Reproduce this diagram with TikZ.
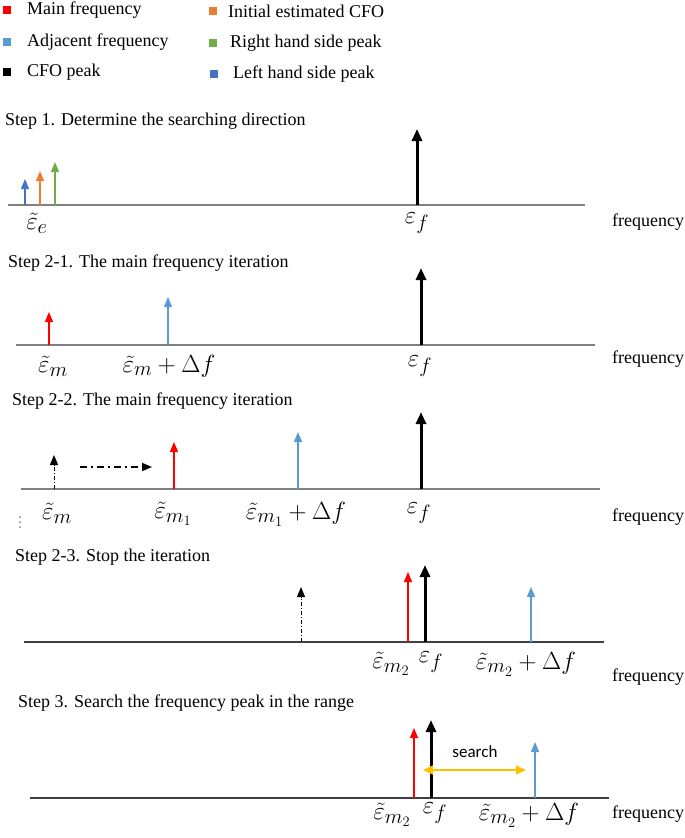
\documentclass[tikz,border=0pt]{standalone}
\usepackage{amsmath, amssymb}
\usepackage{tikz}
\usepackage{fontspec}
\setmainfont{Liberation Serif}
\newfontfamily\searchfont{Carlito}
\usetikzlibrary{arrows.meta}
\usepackage{xcolor}

\definecolor{mainred}{HTML}{FF0000}
\definecolor{adjblue}{HTML}{5B9BD5}
\definecolor{initorange}{HTML}{ED7D31}
\definecolor{rightgreen}{HTML}{70AD47}
\definecolor{leftblue}{HTML}{4472C4}
\definecolor{searchgold}{HTML}{FFC000}

\begin{document}
\begin{tikzpicture}[x=1pt,y=-1pt,
  spike/.style={-{Triangle[width=8pt,length=10pt]}, line width=1.2pt},
  peak/.style={-{Triangle[width=10pt,length=12pt]}, line width=3pt, black},
  dashdot/.style={dash pattern=on 4pt off 2pt on 1pt off 2pt},
  freqaxis/.style={line width=2pt, draw=gray},
  steptitle/.style={anchor=west, inner sep=0pt, font=\fontsize{18}{20}\selectfont},
  legtext/.style={anchor=west, inner sep=0pt, font=\fontsize{18}{20}\selectfont},
  lbl/.style={inner sep=0pt, font=\fontsize{28}{30}\selectfont}]

\useasboundingbox (0,0) rectangle (685,838);

% Legend squares and texts
\foreach \col/\sx/\sy/\tx/\txt [count=\i] in {
  mainred/7/10/27/Main frequency,
  adjblue/7/42/27/Adjacent frequency,
  black/7/72/27/CFO peak,
  initorange/213/11/228/Initial estimated CFO,
  rightgreen/213/43/230/Right hand side peak,
  leftblue/214/74/233/Left hand side peak}
{
  \fill[\col] (\sx-4,\sy-4) rectangle (\sx+4,\sy+4);
  \node[legtext] (leg\i) at (\tx,\sy) {\txt};
}

% Step titles
\node[steptitle] (s1) at (5,121) {Step 1. Determine the searching direction};
\node[steptitle] (s21) at (8,263) {Step 2-1. The main frequency iteration};
\node[steptitle] (s22) at (12,401) {Step 2-2. The main frequency iteration};
\node[steptitle] (s23) at (15,557) {Step 2-3. Stop the iteration};
\node[steptitle] (s3) at (18,703) {Step 3. Search the frequency peak in the range};

% Frequency axes
\foreach \xa/\xb/\y in {8/585/205, 16/595/345, 21/600/489}
  \draw[freqaxis] (\xa,\y) -- (\xb,\y);
\foreach \xa/\xb/\y in {24/604/642, 30/609/798}
  \draw[line width=1.5pt, draw=black!75] (\xa,\y) -- (\xb,\y);

% Axis names
\foreach \y [count=\i] in {222,359,517,677,814}
  \node[legtext] (freq\i) at (612,\y) {frequency};

% Step 1
\draw[spike, leftblue] (25,205) -- (25,179);
\draw[spike, initorange] (40,205) -- (40,171);
\draw[spike, rightgreen] (55,205) -- (55,162);
\draw[peak] (417,205) -- (417,129);
\node[lbl] (e1) at (37,223) {$\tilde{\varepsilon}_e$};
\node[lbl] (f1) at (417,223) {$\varepsilon_f$};

% Step 2-1
\draw[spike, mainred] (49,345) -- (49,312);
\draw[spike, adjblue] (168,345) -- (168,297);
\draw[peak] (421,345) -- (421,268);
\node[lbl] (m21) at (53,366) {$\tilde{\varepsilon}_m$};
\node[lbl] (d21) at (169,366) {$\tilde{\varepsilon}_m+\Delta f$};
\node[lbl] (f21) at (420,366) {$\varepsilon_f$};

% Step 2-2
\draw[spike, dashdot, line width=1pt] (54,489) -- (54,455);
\draw[-{Triangle[width=8pt,length=10pt]}, line width=1.6pt,
  dash pattern=on 7pt off 4pt on 2pt off 4pt] (80,467) -- (152,467);
\draw[spike, mainred] (174,489) -- (174,442);
\draw[spike, adjblue] (298,489) -- (298,432);
\draw[peak] (421,489) -- (421,412);
\node[lbl] (m22) at (57,513) {$\tilde{\varepsilon}_m$};
\node[lbl] (n22) at (173,514) {$\tilde{\varepsilon}_{m_1}$};
\node[lbl] (d22) at (296,514) {$\tilde{\varepsilon}_{m_1}+\Delta f$};
\node[lbl] (f22) at (419,513) {$\varepsilon_f$};
\foreach \y in {517,522,527}
  \fill[gray] (20,\y) circle (1pt);

% Step 2-3
\draw[spike, dashdot, line width=1pt] (301,642) -- (301,587);
\draw[spike, mainred] (408,642) -- (408,572);
\draw[peak] (425,642) -- (425,565);
\draw[spike, adjblue] (531,642) -- (531,587);
\node[lbl] (n23) at (391,664) {$\tilde{\varepsilon}_{m_2}$};
\node[lbl] (f23) at (431,662) {$\varepsilon_f$};
\node[lbl] (d23) at (526,664) {$\tilde{\varepsilon}_{m_2}+\Delta f$};

% Step 3
\draw[spike, mainred] (414,798) -- (414,728);
\draw[peak] (431,798) -- (431,720);
\draw[spike, adjblue] (535,798) -- (535,742);
\coordinate (sl) at (423,770);
\coordinate (sr) at (526,770);
\draw[{Triangle[width=9pt,length=10pt]}-{Triangle[width=9pt,length=10pt]},
  line width=1.5pt, searchgold] (sl) -- (sr);
\node[inner sep=0pt, font=\searchfont\fontsize{17}{19}\selectfont] (srch) at (475,752) {search};
\node[lbl] (n3) at (392,815) {$\tilde{\varepsilon}_{m_2}$};
\node[lbl] (f3) at (435,813) {$\varepsilon_f$};
\node[lbl] (d3) at (529,815) {$\tilde{\varepsilon}_{m_2}+\Delta f$};

\end{tikzpicture}
\end{document}
